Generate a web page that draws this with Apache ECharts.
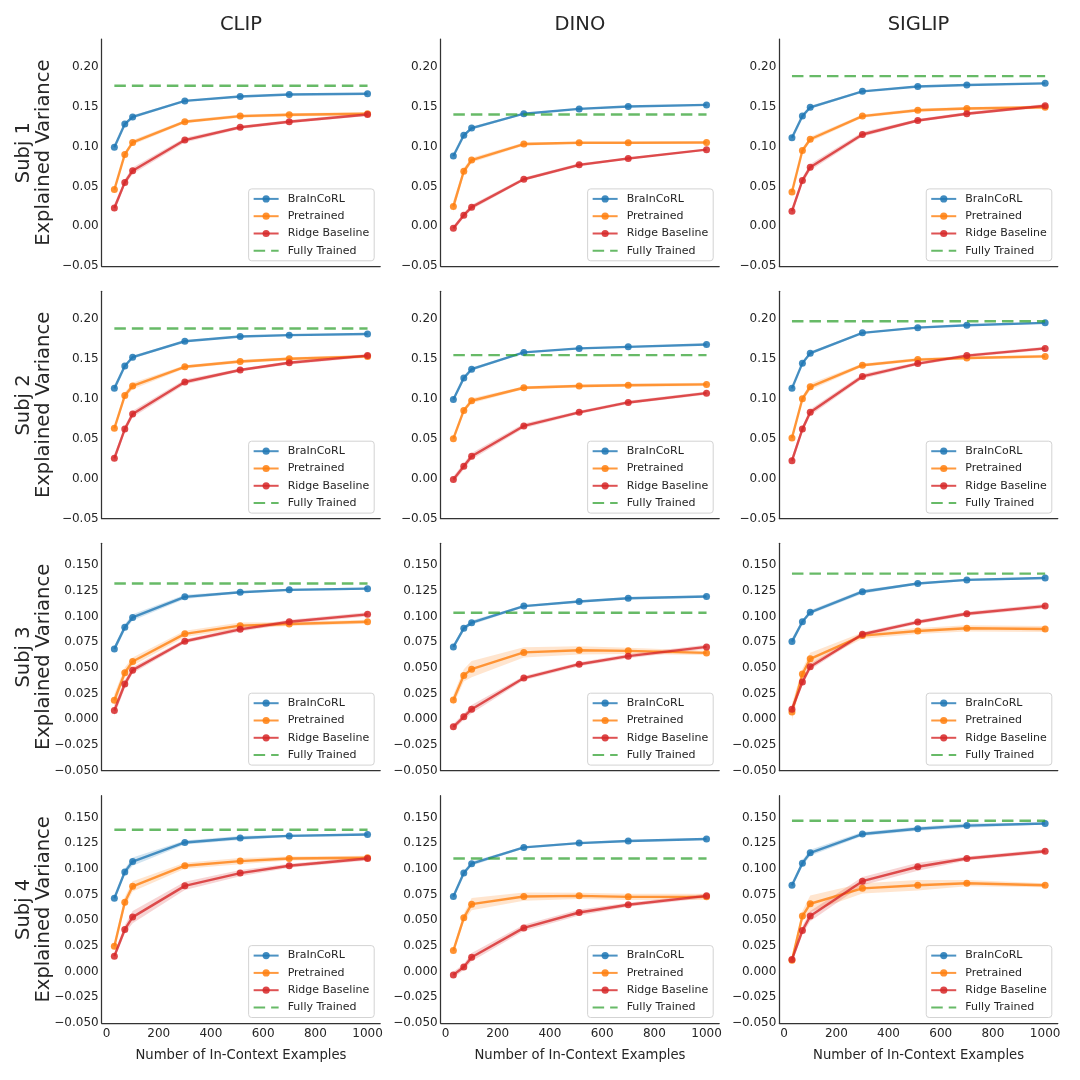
<!DOCTYPE html>
<html><head><meta charset="utf-8">
<script src="https://cdn.jsdelivr.net/npm/echarts@6/dist/echarts.min.js"></script>
<style>html,body{margin:0;padding:0;background:#fff}#c{width:1080px;height:1080px}</style>
</head><body><div id="c"></div>
<script>
// ---------- labels ----------
const xs = [30, 70, 100, 300, 512, 700, 1000];
const modelNames = ['CLIP', 'DINO', 'SIGLIP'];
const subjectNames = ['Subj 1', 'Subj 2', 'Subj 3', 'Subj 4'];
const seriesNames = ['BraInCoRL', 'Pretrained', 'Ridge Baseline', 'Fully Trained'];
const xAxisTitle = 'Number of In-Context Examples';
const yAxisTitle = 'Explained Variance';
const xTickValues = [0, 200, 400, 600, 800, 1000];
const yTicksSubj12 = [-0.05, 0.00, 0.05, 0.10, 0.15, 0.20];
const yTicksSubj34 = [-0.050, -0.025, 0.000, 0.025, 0.050, 0.075, 0.100, 0.125, 0.150];

// ---------- Subj 1 ----------
const s1_clip_brain = [0.099, 0.128, 0.137, 0.157, 0.1625, 0.165, 0.166];
const s1_clip_pre   = [0.046, 0.090, 0.105, 0.131, 0.138, 0.1396, 0.141];
const s1_clip_ridge = [0.023, 0.055, 0.0696, 0.108, 0.124, 0.131, 0.140];
const s1_clip_full  = 0.176;
const s1_dino_brain = [0.088, 0.114, 0.123, 0.141, 0.147, 0.150, 0.152];
const s1_dino_pre   = [0.025, 0.069, 0.083, 0.103, 0.1046, 0.1046, 0.105];
const s1_dino_ridge = [-0.0025, 0.014, 0.024, 0.059, 0.077, 0.085, 0.096];
const s1_dino_full  = 0.140;
const s1_sig_brain  = [0.111, 0.138, 0.149, 0.169, 0.175, 0.177, 0.179];
const s1_sig_pre    = [0.043, 0.095, 0.109, 0.138, 0.1454, 0.1475, 0.149];
const s1_sig_ridge  = [0.019, 0.0575, 0.074, 0.115, 0.1325, 0.141, 0.151];
const s1_sig_full   = 0.188;
// ---------- Subj 2 ----------
const s2_clip_brain = [0.113, 0.141, 0.152, 0.172, 0.178, 0.1796, 0.181];
const s2_clip_pre   = [0.063, 0.104, 0.116, 0.140, 0.1467, 0.150, 0.153];
const s2_clip_ridge = [0.0254, 0.062, 0.081, 0.121, 0.136, 0.145, 0.154];
const s2_clip_full  = 0.188;
const s2_dino_brain = [0.099, 0.126, 0.137, 0.158, 0.163, 0.165, 0.168];
const s2_dino_pre   = [0.050, 0.0854, 0.0975, 0.1138, 0.116, 0.117, 0.118];
const s2_dino_ridge = [-0.001, 0.0154, 0.028, 0.066, 0.083, 0.0954, 0.107];
const s2_dino_full  = 0.1546;
const s2_sig_brain  = [0.113, 0.1446, 0.157, 0.1825, 0.189, 0.192, 0.195];
const s2_sig_pre    = [0.051, 0.100, 0.115, 0.142, 0.149, 0.151, 0.153];
const s2_sig_ridge  = [0.0225, 0.062, 0.083, 0.128, 0.144, 0.154, 0.163];
const s2_sig_full   = 0.197;
// ---------- Subj 3 ----------
const s3_clip_brain = [0.0684, 0.0894, 0.099, 0.119, 0.1235, 0.1258, 0.127];
const s3_clip_pre   = [0.0184, 0.0452, 0.0561, 0.083, 0.091, 0.0926, 0.0948];
const s3_clip_ridge = [0.0084, 0.0342, 0.0477, 0.0758, 0.0874, 0.0948, 0.102];
const s3_clip_full  = 0.132;
const s3_dino_brain = [0.0703, 0.0884, 0.0939, 0.110, 0.1145, 0.1177, 0.1194];
const s3_dino_pre   = [0.0187, 0.0426, 0.0487, 0.065, 0.067, 0.0665, 0.0645];
const s3_dino_ridge = [-0.0074, 0.0023, 0.0097, 0.040, 0.0535, 0.0613, 0.0703];
const s3_dino_full  = 0.1035;
const s3_sig_brain  = [0.0755, 0.0948, 0.104, 0.124, 0.132, 0.1355, 0.1374];
const s3_sig_pre    = [0.007, 0.044, 0.0587, 0.0813, 0.0858, 0.0884, 0.0877];
const s3_sig_ridge  = [0.0097, 0.0361, 0.051, 0.0826, 0.0945, 0.1026, 0.110];
const s3_sig_full   = 0.1416;
// ---------- Subj 4 ----------
const s4_clip_brain = [0.0714, 0.097, 0.107, 0.1256, 0.130, 0.132, 0.1334];
const s4_clip_pre   = [0.0247, 0.0675, 0.083, 0.103, 0.1075, 0.110, 0.1107];
const s4_clip_ridge = [0.015, 0.041, 0.053, 0.0834, 0.0958, 0.103, 0.110];
const s4_clip_full  = 0.138;
const s4_dino_brain = [0.073, 0.096, 0.105, 0.1208, 0.125, 0.127, 0.129];
const s4_dino_pre   = [0.0205, 0.0523, 0.0656, 0.073, 0.0737, 0.0727, 0.0727];
const s4_dino_ridge = [-0.0032, 0.0045, 0.014, 0.0425, 0.0575, 0.065, 0.0737];
const s4_dino_full  = 0.110;
const s4_sig_brain  = [0.084, 0.1055, 0.1156, 0.1338, 0.139, 0.142, 0.144];
const s4_sig_pre    = [0.011, 0.054, 0.066, 0.081, 0.084, 0.086, 0.084];
const s4_sig_ridge  = [0.0117, 0.040, 0.054, 0.088, 0.102, 0.110, 0.117];
const s4_sig_full   = 0.1468;

// ---------- shaded band half-widths (estimated) ----------
const s1_clip_brain_sd = [0.002, 0.002, 0.002, 0.001, 0.001, 0.001, 0.001];
const s1_clip_pre_sd   = [0.003, 0.003, 0.003, 0.002, 0.002, 0.002, 0.002];
const s1_clip_ridge_sd = [0.005, 0.004, 0.004, 0.003, 0.002, 0.002, 0.002];
const s1_dino_brain_sd = [0.002, 0.002, 0.002, 0.001, 0.001, 0.001, 0.001];
const s1_dino_pre_sd   = [0.007, 0.004, 0.003, 0.002, 0.001, 0.001, 0.001];
const s1_dino_ridge_sd = [0.003, 0.003, 0.003, 0.002, 0.002, 0.001, 0.001];
const s1_sig_brain_sd  = [0.002, 0.002, 0.002, 0.001, 0.001, 0.001, 0.001];
const s1_sig_pre_sd    = [0.003, 0.003, 0.003, 0.002, 0.002, 0.002, 0.002];
const s1_sig_ridge_sd  = [0.005, 0.004, 0.004, 0.003, 0.002, 0.002, 0.002];
const s2_clip_brain_sd = [0.002, 0.002, 0.002, 0.001, 0.001, 0.001, 0.001];
const s2_clip_pre_sd   = [0.003, 0.004, 0.004, 0.002, 0.002, 0.002, 0.002];
const s2_clip_ridge_sd = [0.005, 0.004, 0.004, 0.003, 0.002, 0.002, 0.002];
const s2_dino_brain_sd = [0.002, 0.003, 0.002, 0.001, 0.001, 0.001, 0.001];
const s2_dino_pre_sd   = [0.003, 0.003, 0.003, 0.002, 0.002, 0.002, 0.002];
const s2_dino_ridge_sd = [0.004, 0.004, 0.004, 0.003, 0.002, 0.002, 0.002];
const s2_sig_brain_sd  = [0.002, 0.002, 0.002, 0.001, 0.001, 0.001, 0.001];
const s2_sig_pre_sd    = [0.003, 0.003, 0.004, 0.002, 0.002, 0.002, 0.002];
const s2_sig_ridge_sd  = [0.005, 0.004, 0.004, 0.003, 0.002, 0.002, 0.002];
const s3_clip_brain_sd = [0.003, 0.003, 0.003, 0.002, 0.001, 0.001, 0.001];
const s3_clip_pre_sd   = [0.006, 0.005, 0.004, 0.003, 0.003, 0.002, 0.002];
const s3_clip_ridge_sd = [0.005, 0.004, 0.003, 0.002, 0.002, 0.002, 0.002];
const s3_dino_brain_sd = [0.002, 0.002, 0.002, 0.001, 0.001, 0.001, 0.001];
const s3_dino_pre_sd   = [0.005, 0.006, 0.008, 0.005, 0.004, 0.003, 0.002];
const s3_dino_ridge_sd = [0.003, 0.003, 0.004, 0.002, 0.002, 0.002, 0.002];
const s3_sig_brain_sd  = [0.003, 0.002, 0.002, 0.002, 0.001, 0.001, 0.001];
const s3_sig_pre_sd    = [0.008, 0.005, 0.006, 0.003, 0.003, 0.003, 0.003];
const s3_sig_ridge_sd  = [0.004, 0.003, 0.003, 0.002, 0.002, 0.002, 0.002];
const s4_clip_brain_sd = [0.002, 0.003, 0.004, 0.002, 0.002, 0.001, 0.001];
const s4_clip_pre_sd   = [0.004, 0.005, 0.005, 0.003, 0.003, 0.002, 0.002];
const s4_clip_ridge_sd = [0.003, 0.004, 0.006, 0.004, 0.003, 0.002, 0.002];
const s4_dino_brain_sd = [0.002, 0.002, 0.002, 0.001, 0.001, 0.001, 0.001];
const s4_dino_pre_sd   = [0.003, 0.004, 0.006, 0.004, 0.003, 0.003, 0.003];
const s4_dino_ridge_sd = [0.003, 0.003, 0.004, 0.003, 0.003, 0.002, 0.002];
const s4_sig_brain_sd  = [0.002, 0.003, 0.003, 0.002, 0.002, 0.002, 0.001];
const s4_sig_pre_sd    = [0.004, 0.005, 0.008, 0.005, 0.005, 0.003, 0.002];
const s4_sig_ridge_sd  = [0.003, 0.004, 0.005, 0.004, 0.004, 0.002, 0.002];

// ---------- panel table (row-major) ----------
const panels = [
  [[s1_clip_brain, s1_clip_pre, s1_clip_ridge], s1_clip_full, [s1_clip_brain_sd, s1_clip_pre_sd, s1_clip_ridge_sd]],
  [[s1_dino_brain, s1_dino_pre, s1_dino_ridge], s1_dino_full, [s1_dino_brain_sd, s1_dino_pre_sd, s1_dino_ridge_sd]],
  [[s1_sig_brain, s1_sig_pre, s1_sig_ridge], s1_sig_full, [s1_sig_brain_sd, s1_sig_pre_sd, s1_sig_ridge_sd]],
  [[s2_clip_brain, s2_clip_pre, s2_clip_ridge], s2_clip_full, [s2_clip_brain_sd, s2_clip_pre_sd, s2_clip_ridge_sd]],
  [[s2_dino_brain, s2_dino_pre, s2_dino_ridge], s2_dino_full, [s2_dino_brain_sd, s2_dino_pre_sd, s2_dino_ridge_sd]],
  [[s2_sig_brain, s2_sig_pre, s2_sig_ridge], s2_sig_full, [s2_sig_brain_sd, s2_sig_pre_sd, s2_sig_ridge_sd]],
  [[s3_clip_brain, s3_clip_pre, s3_clip_ridge], s3_clip_full, [s3_clip_brain_sd, s3_clip_pre_sd, s3_clip_ridge_sd]],
  [[s3_dino_brain, s3_dino_pre, s3_dino_ridge], s3_dino_full, [s3_dino_brain_sd, s3_dino_pre_sd, s3_dino_ridge_sd]],
  [[s3_sig_brain, s3_sig_pre, s3_sig_ridge], s3_sig_full, [s3_sig_brain_sd, s3_sig_pre_sd, s3_sig_ridge_sd]],
  [[s4_clip_brain, s4_clip_pre, s4_clip_ridge], s4_clip_full, [s4_clip_brain_sd, s4_clip_pre_sd, s4_clip_ridge_sd]],
  [[s4_dino_brain, s4_dino_pre, s4_dino_ridge], s4_dino_full, [s4_dino_brain_sd, s4_dino_pre_sd, s4_dino_ridge_sd]],
  [[s4_sig_brain, s4_sig_pre, s4_sig_ridge], s4_sig_full, [s4_sig_brain_sd, s4_sig_pre_sd, s4_sig_ridge_sd]]
];

// ---------- layout & style ----------
const colors = ['#1f77b4', '#ff7f0e', '#d62728', '#2ca02c'];
const bandColors = ['rgba(31,119,180,0.2)', 'rgba(255,127,14,0.2)', 'rgba(214,39,40,0.2)'];
const FONT = 'DejaVu Sans';
const TXT = '#262626';
const colLeft = [101.7, 440.7, 779.3];
const gridW = 278.5;
const rowTop = [39, 291.3, 543.3, 795.7];
const gridH = 227.3;
const yRange = [[-0.05, 0.2345], [-0.05, 0.2345], [-0.05, 0.1711], [-0.05, 0.1711]];
const xSpan = xs[xs.length - 1] - xs[0];
const xMin = xs[0] - 0.05 * xSpan, xMax = xs[xs.length - 1] + 0.05 * xSpan;

function fmtTick(v, ticks, dec) {
  for (const t of ticks) {
    if (Math.abs(v - t) < 1e-7) {
      const s = Math.abs(t).toFixed(dec);
      return (t < -1e-9 ? '\u2212' : '') + s;
    }
  }
  return '';
}

const grids = [], xAxes = [], yAxes = [], series = [], legends = [], graphics = [];

panels.forEach((p, k) => {
  const r = Math.floor(k / 3), c = k % 3;
  const L = colLeft[c], T = rowTop[r];
  grids.push({ left: L, top: T, width: gridW, height: gridH, containLabel: false, outerBoundsMode: 'none' });
  const isBottom = r === 3;
  xAxes.push({
    type: 'value', gridIndex: k, min: xMin, max: xMax,
    axisLine: { show: true, onZero: false, lineStyle: { color: '#333', width: 1.25 } },
    axisTick: { show: false }, splitLine: { show: false },
    axisLabel: { show: isBottom, margin: 5, fontFamily: FONT, fontSize: 12, color: TXT,
      formatter: v => fmtTick(v, xTickValues, 0) },
    name: isBottom ? xAxisTitle : '', nameLocation: 'middle', nameGap: 26,
    nameTextStyle: { fontFamily: FONT, fontSize: 13.2, color: TXT }
  });
  const ticks = r < 2 ? yTicksSubj12 : yTicksSubj34;
  const dec = r < 2 ? 2 : 3;
  yAxes.push({
    type: 'value', gridIndex: k, min: yRange[r][0], max: yRange[r][1],
    interval: r < 2 ? 0.05 : 0.025,
    axisLine: { show: true, onZero: false, lineStyle: { color: '#333', width: 1.25 } },
    axisTick: { show: false }, splitLine: { show: false },
    axisLabel: { show: true, margin: 3, fontFamily: FONT, fontSize: 12, color: TXT,
      formatter: v => fmtTick(v, ticks, dec) }
  });

  const [vals, full, sds] = p;
  vals.forEach((v, i) => {
    const sd = sds[i];
    const lo = v.map((y, j) => y - sd[j]);
    const hi = v.map((y, j) => y + sd[j]);
    series.push({
      type: 'custom', xAxisIndex: k, yAxisIndex: k, silent: true, z: 1,
      data: xs.map((x, j) => [x, lo[j], hi[j]]),
      encode: { x: 0, y: [1, 2] },
      renderItem: (params, api) => {
        if (params.dataIndex !== 0) return;
        const up = [], dn = [];
        for (let j = 0; j < xs.length; j++) {
          up.push(api.coord([xs[j], hi[j]]));
          dn.push(api.coord([xs[j], lo[j]]));
        }
        return { type: 'polygon', shape: { points: up.concat(dn.reverse()) },
          style: { fill: bandColors[i] } };
      }
    });
  });
  vals.forEach((v, i) => {
    series.push({
      type: 'line', name: seriesNames[i], xAxisIndex: k, yAxisIndex: k,
      data: xs.map((x, j) => [x, v[j]]),
      symbol: 'circle', symbolSize: 7, showSymbol: true,
      lineStyle: { color: colors[i], width: 2.4, opacity: 0.8 },
      itemStyle: { color: colors[i], opacity: 0.85 },
      z: 3 + i, silent: true
    });
  });
  series.push({
    type: 'line', name: seriesNames[3], xAxisIndex: k, yAxisIndex: k,
    data: [[xs[0], full], [xs[xs.length - 1], full]],
    symbol: 'none',
    lineStyle: { color: colors[3], width: 2.4, type: [11.5, 6], opacity: 0.72 },
    itemStyle: { color: colors[3] }, z: 7, silent: true
  });

  legends.push({
    show: true, orient: 'vertical',
    right: 1080 - (L + gridW) + 6, bottom: 1080 - (T + gridH) + 5.5,
    data: [
      { name: seriesNames[0] }, { name: seriesNames[1] }, { name: seriesNames[2] },
      { name: seriesNames[3], itemStyle: { color: 'rgba(0,0,0,0)', borderWidth: 0 } }
    ],
    itemWidth: 25, itemHeight: 9, itemGap: 3.3, padding: [3, 5, 3, 4],
    borderColor: '#d3d3d3', borderWidth: 1, borderRadius: 3, backgroundColor: 'rgba(255,255,255,0.85)',
    textStyle: { fontFamily: FONT, fontSize: 11, color: TXT, lineHeight: 14, padding: [0, 0, 0, 4] },
    selectedMode: false
  });
});

modelNames.forEach((m, c) => {
  graphics.push({ type: 'text', x: colLeft[c] + gridW / 2, y: 25,
    style: { text: m, fontFamily: FONT, fontSize: 19.5, fill: TXT, textAlign: 'center', textVerticalAlign: 'middle' } });
});
subjectNames.forEach((s, r) => {
  graphics.push({ type: 'text', x: 33.5, y: rowTop[r] + gridH / 2, rotation: Math.PI / 2,
    style: { text: s + '\n' + yAxisTitle, fontFamily: FONT, fontSize: 19.5, lineHeight: 20, fill: TXT,
      textAlign: 'center', textVerticalAlign: 'middle' } });
});

const chart = echarts.init(document.getElementById('c'), null, { renderer: 'canvas', width: 1080, height: 1080 });
chart.setOption({
  animation: false, backgroundColor: '#ffffff',
  grid: grids, xAxis: xAxes, yAxis: yAxes, series: series, legend: legends, graphic: graphics
});
</script></body></html>
